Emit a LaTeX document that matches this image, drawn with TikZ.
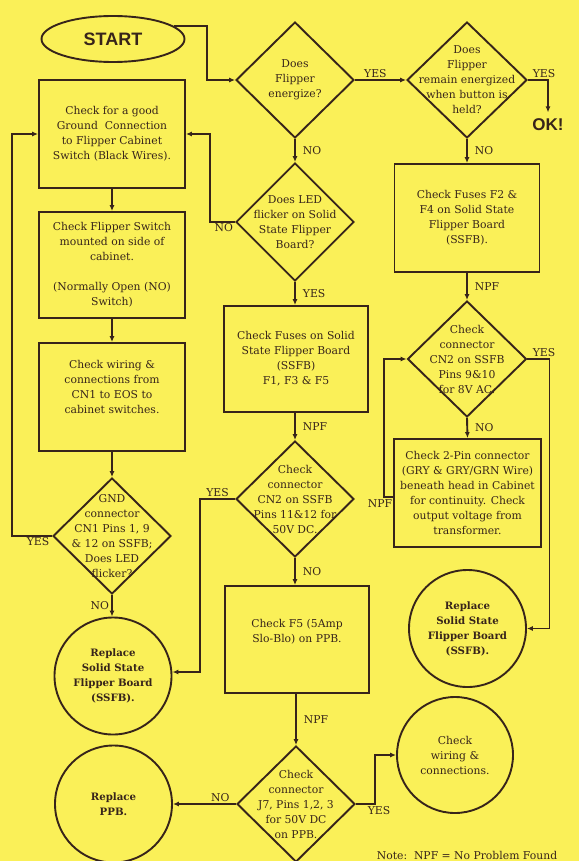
\documentclass[tikz,border=0pt]{standalone}
\usepackage{fontspec}
\setmainfont{DejaVu Serif}
\newfontfamily\headfont{Liberation Sans}
\usetikzlibrary{shapes.geometric,arrows.meta,positioning}
\definecolor{paper}{RGB}{250,240,88}
\definecolor{ink}{RGB}{55,36,26}

\begin{document}
\begin{tikzpicture}[x=1pt,y=-1pt,
    every node/.style={font=\fontsize{10.8}{15}\selectfont,text=ink},
    box/.style={draw=ink,line width=1.9pt,rectangle,align=center,minimum width=146pt,minimum height=108pt},
    decision/.style={draw=ink,line width=1.9pt,diamond,minimum width=118pt,minimum height=116pt,inner sep=0pt},
    qtext/.style={align=center},
    finish/.style={draw=ink,line width=1.9pt,circle,minimum size=117pt,align=center,font=\fontsize{10.2}{15}\selectfont\bfseries},
    lbl/.style={inner sep=1pt},
    flow/.style={->,>={Latex[length=6pt,width=5pt]},line width=1.9pt,draw=ink}]

    \useasboundingbox (0,0) rectangle (579,861);
    \fill[paper] (0,0) rectangle (579,861);

    \node[draw=ink,line width=1.9pt,ellipse,minimum width=143pt,minimum height=46pt,font=\headfont\fontsize{18}{18}\selectfont\bfseries] (start) at (113,39) {START};
    \node[decision,label={[qtext]center:{Does\\Flipper\\energize?}}] (energize) at (295,80) {};
    \node[decision,minimum width=120pt,label={[qtext]center:{Does\\Flipper\\remain energized\\when button is\\held?}}] (remain) at (467,80) {};
    \node[font=\headfont\fontsize{17}{17}\selectfont\bfseries] (ok) at (548,125) {OK!};

    \node[box,minimum width=145pt] (fuses24) at (467,218) {Check Fuses F2 \&\\F4 on Solid State\\Flipper Board\\(SSFB).};
    \node[decision,minimum width=119pt,label={[qtext]center:{Check\\connector\\CN2 on SSFB\\Pins 9\&10\\for 8V AC.}}] (cn2ac) at (467,359) {};
    \node[box,minimum width=147pt] (twopin) at (467.5,493) {Check 2-Pin connector\\(GRY \& GRY/GRN Wire)\\beneath head in Cabinet\\for continuity. Check\\output voltage from\\transformer.};
    \node[finish] (replR) at (467.5,628.5) {Replace\\Solid State\\Flipper Board\\(SSFB).};

    \node[box] (ground) at (112,134) {Check for a good\\Ground\ \ Connection\\to Flipper Cabinet\\Switch (Black Wires).};
    \node[box,minimum height=106pt] (switch) at (112,265) {Check Flipper Switch\\mounted on side of\\cabinet.\\[15pt](Normally Open (NO)\\Switch)};
    \node[box,text depth=20pt] (wiring) at (112,397) {Check wiring \&\\connections from\\CN1 to EOS to\\cabinet switches.};
    \node[decision,label={[qtext]center:{GND\\connector\\CN1 Pins 1, 9\\\& 12 on SSFB;\\Does LED\\flicker?}}] (gnd) at (112,536) {};
    \node[finish] (replL) at (113,676) {Replace\\Solid State\\Flipper Board\\(SSFB).};

    \node[decision,minimum height=118pt,label={[qtext]center:{Does LED\\flicker on Solid\\State Flipper\\Board?}}] (led) at (295,222) {};
    \node[box,minimum width=144pt,minimum height=106pt] (fuses135) at (296,359) {Check Fuses on Solid\\State Flipper Board\\(SSFB)\\F1, F3 \& F5};
    \node[decision,label={[qtext]center:{Check\\connector\\CN2 on SSFB\\Pins 11\&12 for\\50V DC.}}] (cn2dc) at (295,499) {};
    \node[box,minimum width=144pt,minimum height=107pt,text depth=17pt] (f5) at (297,639.5) {Check F5 (5Amp\\Slo-Blo) on PPB.};
    \node[decision,label={[qtext]center:{Check\\connector\\J7, Pins 1,2, 3\\for 50V DC\\on PPB.}}] (j7) at (296,804) {};
    \node[finish] (replPPB) at (113.5,804) {Replace\\PPB.};
    \node[draw=ink,line width=1.9pt,circle,minimum size=116pt,align=center] (checkW) at (455,755) {Check\\wiring \&\\connections.};
    \node (note) at (467,855) {Note:\ \ NPF = No Problem Found};

    \path[flow] (start.12) -| ([xshift=-28pt]energize.west) -- (energize.west);
    \path[flow] (energize.east) -- node[lbl,above,pos=.4] {YES} (remain.west);
    \path[flow] (remain.east) -| node[lbl,above,pos=.4] {YES} ([yshift=3pt]ok.north);
    \path[flow] (remain.south) -- node[lbl,right=6pt] {NO} (fuses24.north);
    \path[flow] (fuses24.south) -- node[lbl,right=6pt] {NPF} (cn2ac.north);
    \path[flow] (cn2ac.east) -- node[lbl,above,pos=.75] {YES} ++(22,0) |- (replR.east);
    \path[flow] (cn2ac.south) -- node[lbl,right=6pt] {NO} (twopin.north);
    \path[flow] ([yshift=-4pt]twopin.west) -- ++(-9,0) node[lbl,below=1pt,xshift=-4pt] {NPF} |- (cn2ac.west);

    \path[flow] (ground.south) -- (switch.north);
    \path[flow] (switch.south) -- (wiring.north);
    \path[flow] (wiring.south) -- (gnd.north);
    \path[flow] (gnd.west) -- node[lbl,below,pos=.35] {YES} ++(-40,0) |- (ground.west);
    \path[flow] (gnd.south) -- node[lbl,left=1pt] {NO} (gnd.south |- replL.north);

    \path[flow] (energize.south) -- node[lbl,right=6pt] {NO} (led.north);
    \path[flow] (led.west) -- node[lbl,below,pos=.45] {NO} ++(-25,0) |- (ground.east);
    \path[flow] (led.south) -- node[lbl,right=6pt] {YES} (led.south |- fuses135.north);
    \path[flow] (fuses135.south -| cn2dc.north) -- node[lbl,right=6pt] {NPF} (cn2dc.north);
    \path[flow] (cn2dc.west) -- node[lbl,above] {YES} ++(-35,0) |- ([yshift=4pt]replL.east);
    \path[flow] (cn2dc.south) -- node[lbl,right=6pt] {NO} (cn2dc.south |- f5.north);
    \path[flow] (f5.south -| j7.north) -- node[lbl,right=6pt] {NPF} (j7.north);
    \path[flow] (j7.west) -- node[lbl,above,pos=.25] {NO} (replPPB.east);
    \path[flow] (j7.east) -- ++(19,0) node[lbl,below=1pt,xshift=4pt] {YES} |- (checkW.west);

\end{tikzpicture}
\end{document}
